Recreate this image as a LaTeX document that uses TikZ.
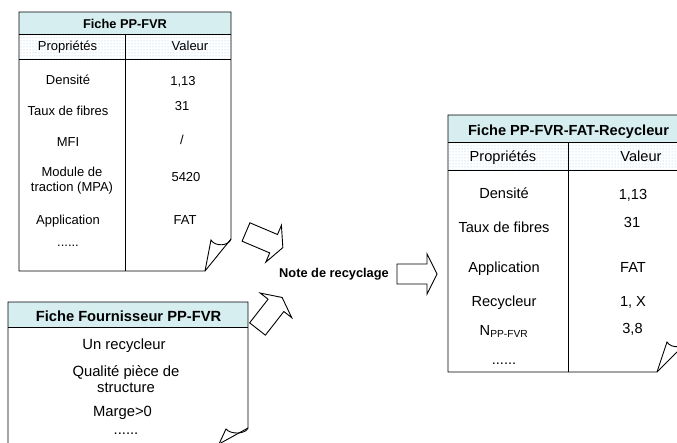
\documentclass[tikz,border=0pt]{standalone}
\usepackage{fontspec}
\setmainfont{Liberation Sans}
\usetikzlibrary{patterns}
\definecolor{titlefill}{RGB}{214,238,240}
\definecolor{dotcol}{RGB}{150,195,235}
\tikzset{
  frame/.style={draw=black, line width=0.9pt, line join=miter},
  txt/.style={inner sep=0pt, anchor=base},
  mtxt/.style={inner sep=0pt, anchor=center, align=center},
  fa/.style={font=\fontsize{13}{15.5}\selectfont},
  fat/.style={font=\fontsize{12.8}{15.5}\selectfont\bfseries},
  fb/.style={font=\fontsize{14.8}{15.8}\selectfont},
  fbt/.style={font=\fontsize{14.7}{16}\selectfont\bfseries},
  fc/.style={font=\fontsize{14.6}{17}\selectfont},
  fct/.style={font=\fontsize{14.6}{17}\selectfont\bfseries},
  titlerow/.style={fill=titlefill},
  headrow/.style={pattern=dots, pattern color=dotcol},
  barrow/.style={draw=black, fill=white, line width=0.9pt, line join=miter},
  blockarrow/.pic={\draw[barrow] (0,-10) -- (30,-10) -- (30,-20) -- (40,0) -- (30,20) -- (30,10) -- (0,10) -- cycle;}
}
\begin{document}
\begin{tikzpicture}[x=1pt,y=-1pt, font=\fontsize{12.8}{15.5}\selectfont]
\useasboundingbox (0,0) rectangle (677,443);
\clip (0,0) rectangle (677,443);

% ---------- Table 1 : Fiche PP-FVR ----------
\fill[white] (205,271) -- (19,271) -- (19,12) -- (231,12) -- (231,239) -- cycle;
\fill[titlerow] (19,12) rectangle (231,34);
\fill[headrow] (19,34) rectangle (231,59);
\draw[frame] (205,271) -- (19,271) -- (19,12) -- (231,12) -- (231,239) -- cycle;
\draw[frame] (19,34) -- (231,34);
\draw[frame] (19,59) -- (231,59);
\draw[frame] (125,34) -- (125,271);
\draw[frame] (231,239) .. controls (229,246) and (215,247) .. (211,240) -- (205,271);

\node[txt, fat] (t1title) at (125,28.7) {Fiche PP-FVR};
\begin{scope}[every node/.append style={fa}]
\node[txt] (t1h1) at (67.5,50.7) {Propriétés};
\node[txt] (t1h2) at (190,50.7) {Valeur};
\node[txt] (t1p1) at (68,84.7) {Densité};
\node[txt] (t1v1) at (183,85.7) {1,13};
\node[txt] (t1p2) at (68,115.7) {Taux de fibres};
\node[txt] (t1v2) at (182,110.7) {31};
\node[txt] (t1p3) at (68,147) {MFI};
\node[txt] (t1v3) at (182,145) {/};
\node[mtxt] (t1p4) at (72,180.5) {Module de\\traction (MPA)};
\node[txt] (t1v4) at (186,181.7) {5420};
\node[txt] (t1p5) at (68,224.7) {Application};
\node[txt] (t1v5) at (185,224.7) {FAT};
\node[txt] (t1p6) at (68,247) {......};
\end{scope}

% ---------- Table 2 : Fiche Fournisseur ----------
\fill[white] (219,444) -- (8,444) -- (8,302) -- (248,302) -- (248,428) -- cycle;
\fill[titlerow] (8,302) rectangle (248,327);
\draw[frame] (219,444) -- (8,444) -- (8,302) -- (248,302) -- (248,428) -- cycle;
\draw[frame] (8,327) -- (248,327);
\draw[frame] (248,428) .. controls (246,434) and (231,435) .. (226,429) -- (219,444);

\node[txt, fbt] (t2title) at (128.5,321.3) {Fiche Fournisseur PP-FVR};
\begin{scope}[every node/.append style={fb}]
\node[txt] (t2a) at (124,349.4) {Un recycleur};
\node[mtxt] (t2b) at (126,379.5) {Qualité pièce de\\structure};
\node[txt] (t2c) at (122.5,416.4) {Marge>0};
\node[txt] (t2d) at (126,434) {......};
\end{scope}

% ---------- Table 3 : Fiche PP-FVR-FAT-Recycleur ----------
\fill[white] (657,372) -- (448,372) -- (448,115) -- (688,115) -- (688,341) -- cycle;
\fill[titlerow] (448,115) rectangle (688,142);
\fill[headrow] (448,142) rectangle (688,170);
\draw[frame] (657,372) -- (448,372) -- (448,115) -- (688,115) -- (688,341) -- cycle;
\draw[frame] (448,142) -- (688,142);
\draw[frame] (448,170) -- (688,170);
\draw[frame] (568,142) -- (568,372);
\draw[frame] (688,341) .. controls (686,348) and (671,349) .. (667,342) -- (657,372);

\node[txt, fct] (t3title) at (568.5,135.3) {Fiche PP-FVR-FAT-Recycleur};
\begin{scope}[every node/.append style={fc}]
\node[txt] (t3h1) at (503,161.3) {Propriétés};
\node[txt] (t3h2) at (641,161.3) {Valeur};
\node[txt] (t3p1) at (504,198.3) {Densité};
\node[txt] (t3v1) at (633,199.8) {1,13};
\node[txt] (t3p2) at (504,232.3) {Taux de fibres};
\node[txt] (t3v2) at (632,227.3) {31};
\node[txt] (t3p3) at (504,272.3) {Application};
\node[txt] (t3v3) at (633,272.3) {FAT};
\node[txt] (t3p4) at (504,306.3) {Recycleur};
\node[txt] (t3v4) at (633,306.3) {1, X};
\node[txt] (t3p5) at (504,335.3) {N\textsubscript{PP-FVR}};
\node[txt] (t3v5) at (632.5,333.3) {3,8};
\node[txt] (t3p6) at (504,364) {......};
\end{scope}

% ---------- Note and block arrows ----------
\node[txt, fat] (note) at (334,277.6) {Note de recyclage};
\pic[rotate=-23] (arrA) at (246,232) {blockarrow};
\pic[rotate=52] (arrB) at (257.5,329) {blockarrow};
\pic (arrC) at (397,274) {blockarrow};
\end{tikzpicture}
\end{document}
